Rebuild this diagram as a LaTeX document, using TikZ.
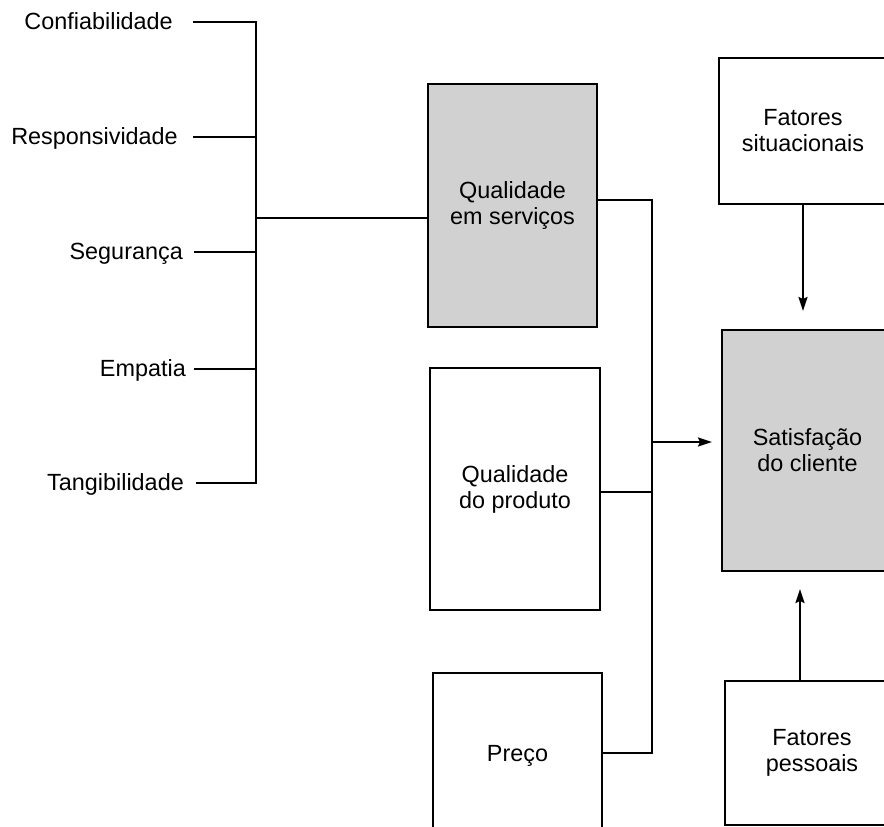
\documentclass[tikz,border=0pt]{standalone}
\usepackage{fontspec}
\setmainfont{Liberation Sans}
\usetikzlibrary{arrows.meta}
\begin{document}
\begin{tikzpicture}[x=1pt,y=-1pt,
  every node/.style={font=\fontsize{23.4}{26}\selectfont},
  lbl/.style={anchor=east, text height=15pt, text depth=0pt, inner ysep=0pt},
  box/.style={draw, line width=2pt, align=center, inner sep=0pt},
  shaded/.style={box, fill=black!18},
  ln/.style={line width=2pt},
  arr/.style={ln, -{Stealth[length=14pt,width=9pt,inset=2pt]}}]
\useasboundingbox (0,0) rectangle (884,827);
\clip (0,0) rectangle (884,827);

% boxes
\node[shaded, minimum width=169pt, minimum height=243pt] (sq) at (512.5,205.5) {Qualidade\\em serviços};
\node[box, minimum width=170pt, minimum height=242pt] (pq) at (515,489) {Qualidade\\do produto};
\node[box, minimum width=169pt, minimum height=166pt] (pr) at (517.5,756) {Preço};
\node[box, minimum width=168pt, minimum height=146pt] (fs) at (803,131) {Fatores\\situacionais};
\node[shaded, minimum width=171pt, minimum height=241pt] (sat) at (807.5,450.5) {Satisfação\\do cliente};
\node[box, minimum width=174pt, minimum height=144pt] (fp) at (812,753) {Fatores\\pessoais};

% left labels
\node[lbl, inner xsep=20pt] (l1) at (193,21.5) {Confiabilidade};
\node[lbl, inner xsep=15pt] (l2) at (193,136.7) {Responsividade};
\node[lbl, inner xsep=11pt] (l3) at (194,251.7) {Segurança};
\node[lbl, inner xsep=8pt] (l4) at (194,369) {Empatia};
\node[lbl, inner xsep=12pt] (l5) at (196,482.7) {Tangibilidade};

\coordinate (bus) at (256,218);
\draw[ln] (l1.east) -- (l1.east -| bus) -- (l5.east -| bus) -- (l5.east);
\draw[ln] (l2.east) -- (l2.east -| bus);
\draw[ln] (l3.east) -- (l3.east -| bus);
\draw[ln] (l4.east) -- (l4.east -| bus);
\draw[ln] (bus) -- (bus -| sq.west);

% right bus
\coordinate (rt) at (652,200);
\coordinate (rbm) at (652,492);
\coordinate (rbb) at (652,753);
\coordinate (ra) at (652,442);
\draw[ln] (sq.east |- rt) -- (rt) -- (rbb) -- (pr.east |- rbb);
\draw[ln] (pq.east |- rbm) -- (rbm);
\draw[arr, shorten >=9pt] (ra) -- (sat.west |- ra);

% vertical arrows
\draw[arr, shorten >=18pt] (fs.south) -- (fs.south |- sat.north);
\draw[arr, shorten >=17pt] ([xshift=76pt]fp.north west) -- ([xshift=76pt]fp.north west |- sat.south);
\end{tikzpicture}
\end{document}
